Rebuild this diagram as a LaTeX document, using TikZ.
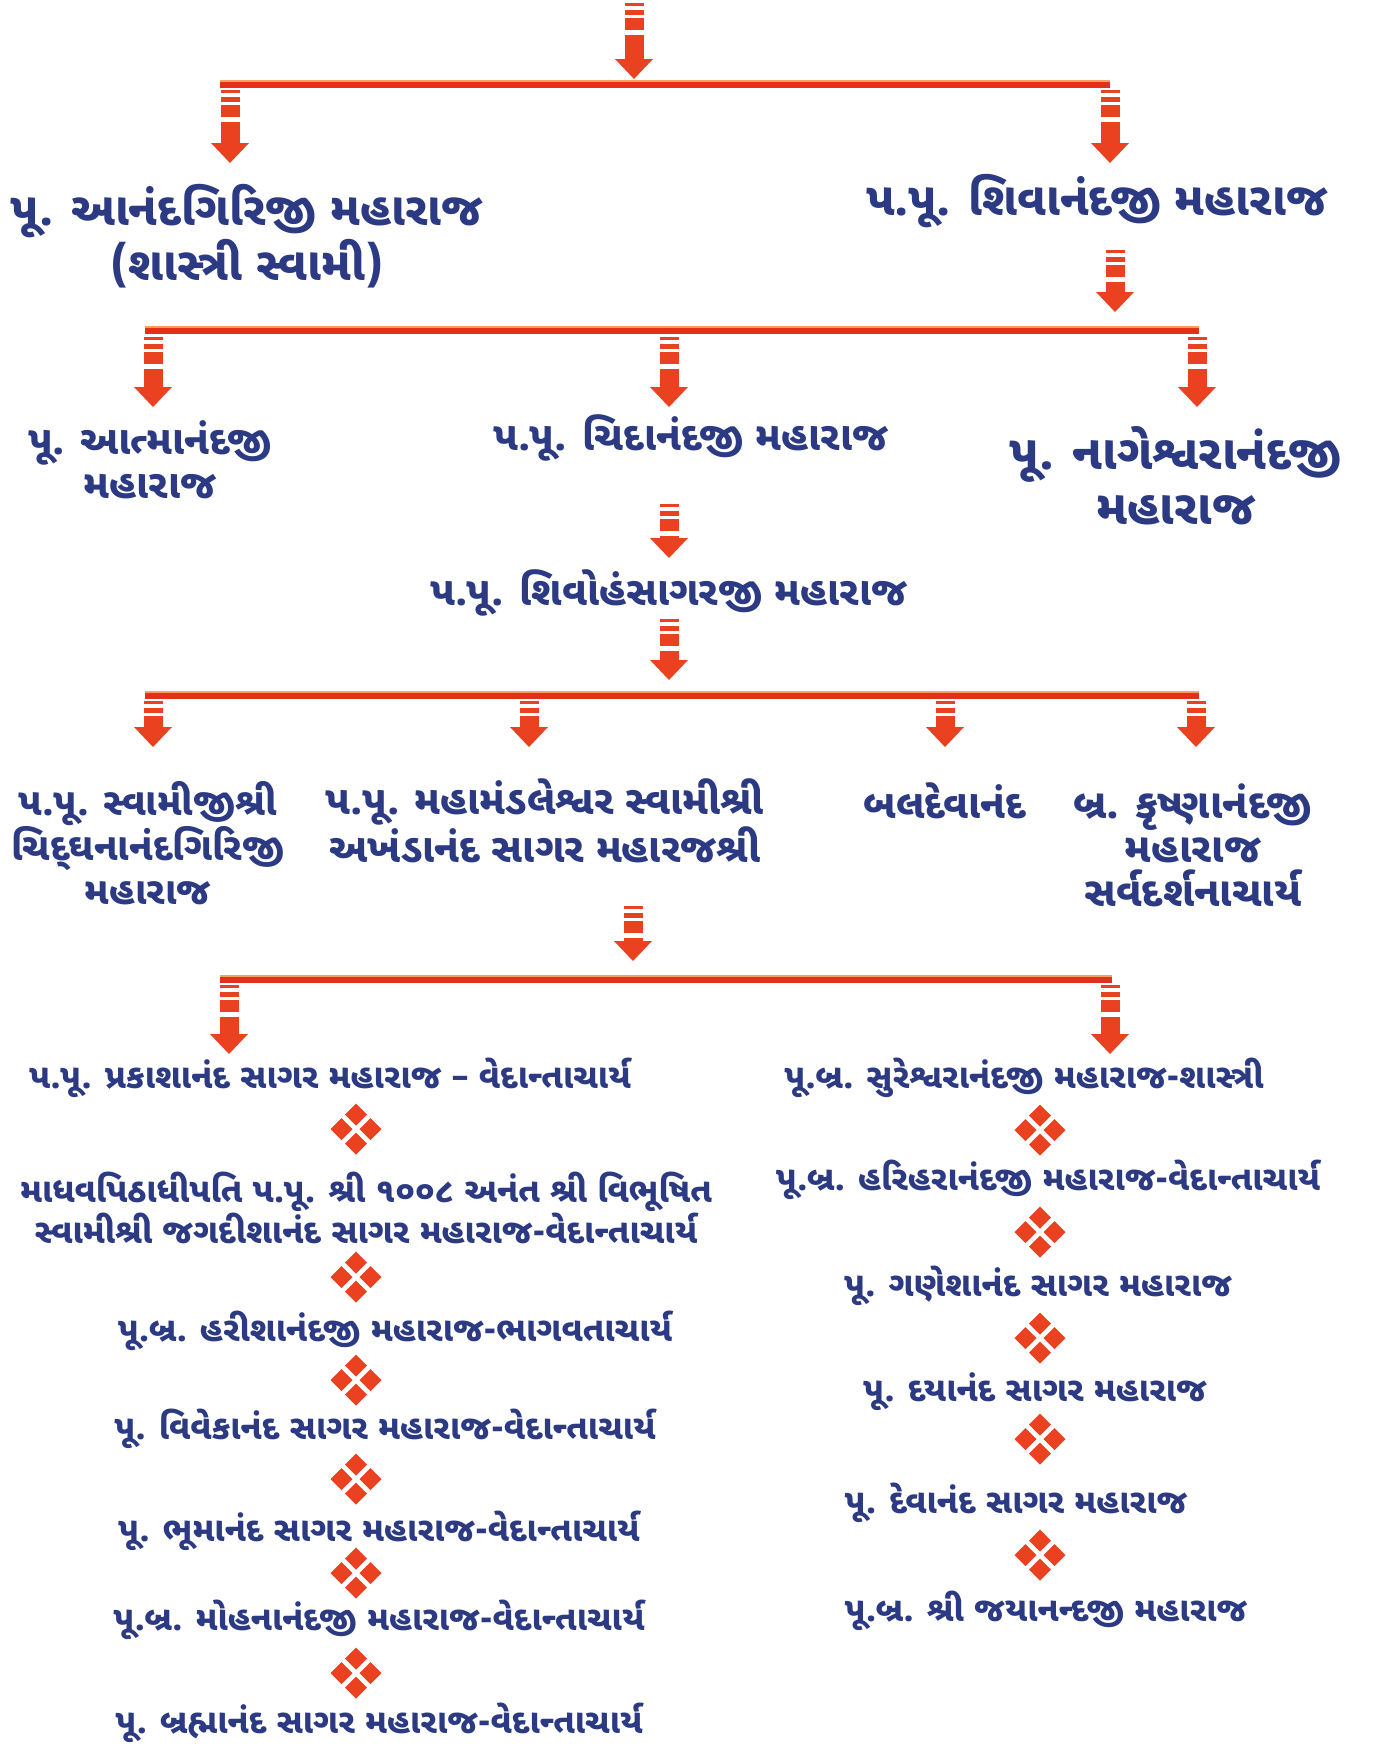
\documentclass[tikz,border=0pt]{standalone}
\usepackage{fontspec}
\usetikzlibrary{arrows.meta}
\newfontfamily\gujfont[Script=Gujarati]{Noto Sans Gujarati UI}
\definecolor{namecol}{HTML}{2B3A82}
\definecolor{arrowred}{HTML}{EA4220}
\definecolor{barred}{HTML}{E2301C}
\definecolor{barglow}{HTML}{F8A060}
\begin{document}
\begin{tikzpicture}[x=1pt,y=-1pt]
        % Define styles
        \tikzset{
            bigname/.style={text=namecol, align=center, inner sep=0pt, font=\gujfont\bfseries\fontsize{#1}{55}\selectfont},
            bigname/.default=46,
            midname/.style={bigname, font=\gujfont\bfseries\fontsize{40}{44}\selectfont},
            smallname/.style={bigname, font=\gujfont\bfseries\fontsize{#1}{44}\selectfont},
            smallname/.default=39,
            listname/.style={bigname, font=\gujfont\bfseries\fontsize{#1}{38}\selectfont},
            listname/.default=34,
            fatarrow/.style={draw=arrowred, line width=19pt, dash pattern=on 3pt off 4pt on 5pt off 3pt on 12pt off 5pt on 300pt, -{Triangle[width=38pt,length=20pt,line width=0pt]}},
            bar/.style={draw=barred, line width=6pt, preaction={draw=barglow, line width=7pt, transform canvas={yshift=1.5pt}}},
            gem/.pic={\foreach \dx/\dy in {0/-14.5,14.5/0,0/14.5,-14.5/0}
                \fill[arrowred] (\dx,\dy) ++(0,-11) -- ++(11,11) -- ++(-11,11) -- ++(-11,-11) -- cycle;}
        }
        \fill[white] (0,0) rectangle (1373,1749);
        \useasboundingbox (0,0) rectangle (1373,1749);
        % First split
        \coordinate (j0) at (634,3);
        \coordinate (b1l) at (220,85);
        \coordinate (b1r) at (1110,85);
        \draw[bar] (b1l) -- (b1r);
        \draw[fatarrow] (j0) -- ++(0,76);
        \coordinate (j1a) at (230,90);
        \coordinate (j1b) at (1110,90);
        \draw[fatarrow] (j1a) -- ++(0,73);
        \draw[fatarrow] (j1b) -- ++(0,73);
        \node[bigname] (anand) at (247,236) {પૂ. આનંદગિરિજી મહારાજ\\(શાસ્ત્રી સ્વામી)};
        \node[bigname] (shiva) at (1097,201) {પ.પૂ. શિવાનંદજી મહારાજ};
        % Disciples of Shivanand
        \coordinate (j2) at (1115,250);
        \draw[fatarrow] (j2) -- ++(0,62);
        \coordinate (b2l) at (145,331);
        \coordinate (b2r) at (1199,331);
        \draw[bar] (b2l) -- (b2r);
        \coordinate (j2a) at (153,337);
        \coordinate (j2b) at (669,337);
        \coordinate (j2c) at (1197,337);
        \foreach \j in {j2a,j2b,j2c}
            \draw[fatarrow] (\j) -- ++(0,70);
        \node[midname] (atma) at (150,460) {પૂ. આત્માનંદજી\\મહારાજ};
        \node[midname] (chida) at (691,438) {પ.પૂ. ચિદાનંદજી મહારાજ};
        \node[bigname=48] (nages) at (1176,476) {પૂ. નાગેશ્વરાનંદજી\\મહારાજ};
        % Chidanand -> Shivoham
        \coordinate (j3) at (669,504);
        \draw[fatarrow] (j3) -- ++(0,54);
        \node[midname] (shivoham) at (669,593) {પ.પૂ. શિવોહંસાગરજી મહારાજ};
        \coordinate (j4) at (669,619);
        \draw[fatarrow] (j4) -- ++(0,61);
        \coordinate (b3l) at (145,696);
        \coordinate (b3r) at (1199,696);
        \draw[bar] (b3l) -- (b3r);
        \coordinate (j3a) at (153,701);
        \coordinate (j3b) at (529,701);
        \coordinate (j3c) at (945,701);
        \coordinate (j3d) at (1196,701);
        \foreach \j in {j3a,j3b,j3c,j3d}
            \draw[fatarrow] (\j) -- ++(0,46);
        \node[smallname=38] (chidghan) at (148,843) {પ.પૂ. સ્વામીજીશ્રી\\ચિદ્^^^^200cઘનાનંદગિરિજી\\મહારાજ};
        \node[smallname=40] (akhand) at (545,821) {પ.પૂ. મહામંડલેશ્વર સ્વામીશ્રી\\અખંડાનંદ સાગર મહારજશ્રી};
        \node[smallname=40] (baldev) at (945,801) {બલદેવાનંદ};
        \node[smallname=41] (krishna) at (1193,845) {બ્ર. કૃષ્ણાનંદજી\\મહારાજ\\સર્વદર્શનાચાર્ય};
        % Akhandanand's line
        \coordinate (j5) at (633,906);
        \draw[fatarrow] (j5) -- ++(0,55);
        \coordinate (b4l) at (220,980);
        \coordinate (b4r) at (1112,980);
        \draw[bar] (b4l) -- (b4r);
        \coordinate (j4a) at (229,985);
        \coordinate (j4b) at (1110,985);
        \draw[fatarrow] (j4a) -- ++(0,69);
        \draw[fatarrow] (j4b) -- ++(0,69);
        % Left list
        \node[listname] (l1) at (330,1078) {પ.પૂ. પ્રકાશાનંદ સાગર મહારાજ – વેદાન્તાચાર્ય};
        \node[listname] (l2) at (366,1208) {માધવપિઠાધીપતિ પ.પૂ. શ્રી ૧૦૦૮ અનંત શ્રી વિભૂષિત\\સ્વામીશ્રી જગદીશાનંદ સાગર મહારાજ-વેદાન્તાચાર્ય};
        \node[listname] (l3) at (395,1331) {પૂ.બ્ર. હરીશાનંદજી મહારાજ-ભાગવતાચાર્ય};
        \node[listname] (l4) at (385,1429) {પૂ. વિવેકાનંદ સાગર મહારાજ-વેદાન્તાચાર્ય};
        \node[listname] (l5) at (379,1531) {પૂ. ભૂમાનંદ સાગર મહારાજ-વેદાન્તાચાર્ય};
        \node[listname] (l6) at (379,1620) {પૂ.બ્ર. મોહનાનંદજી મહારાજ-વેદાન્તાચાર્ય};
        \node[listname] (l7) at (379,1723) {પૂ. બ્રહ્માનંદ સાગર મહારાજ-વેદાન્તાચાર્ય};
        \foreach \y in {1129,1277,1380,1479,1573,1673}
            \pic at (356,\y) {gem};
        % Right list
        \node[listname] (r1) at (1024,1078) {પૂ.બ્ર. સુરેશ્વરાનંદજી મહારાજ-શાસ્ત્રી};
        \node[listname] (r2) at (1048,1180) {પૂ.બ્ર. હરિહરાનંદજી મહારાજ-વેદાન્તાચાર્ય};
        \node[listname] (r3) at (1038,1286) {પૂ. ગણેશાનંદ સાગર મહારાજ};
        \node[listname] (r4) at (1035,1392) {પૂ. દયાનંદ સાગર મહારાજ};
        \node[listname] (r5) at (1016,1503) {પૂ. દેવાનંદ સાગર મહારાજ};
        \node[listname] (r6) at (1046,1611) {પૂ.બ્ર. શ્રી જયાનન્દજી મહારાજ};
        \foreach \y in {1130,1232,1338,1439,1555}
            \pic at (1040,\y) {gem};
\end{tikzpicture}
\end{document}
